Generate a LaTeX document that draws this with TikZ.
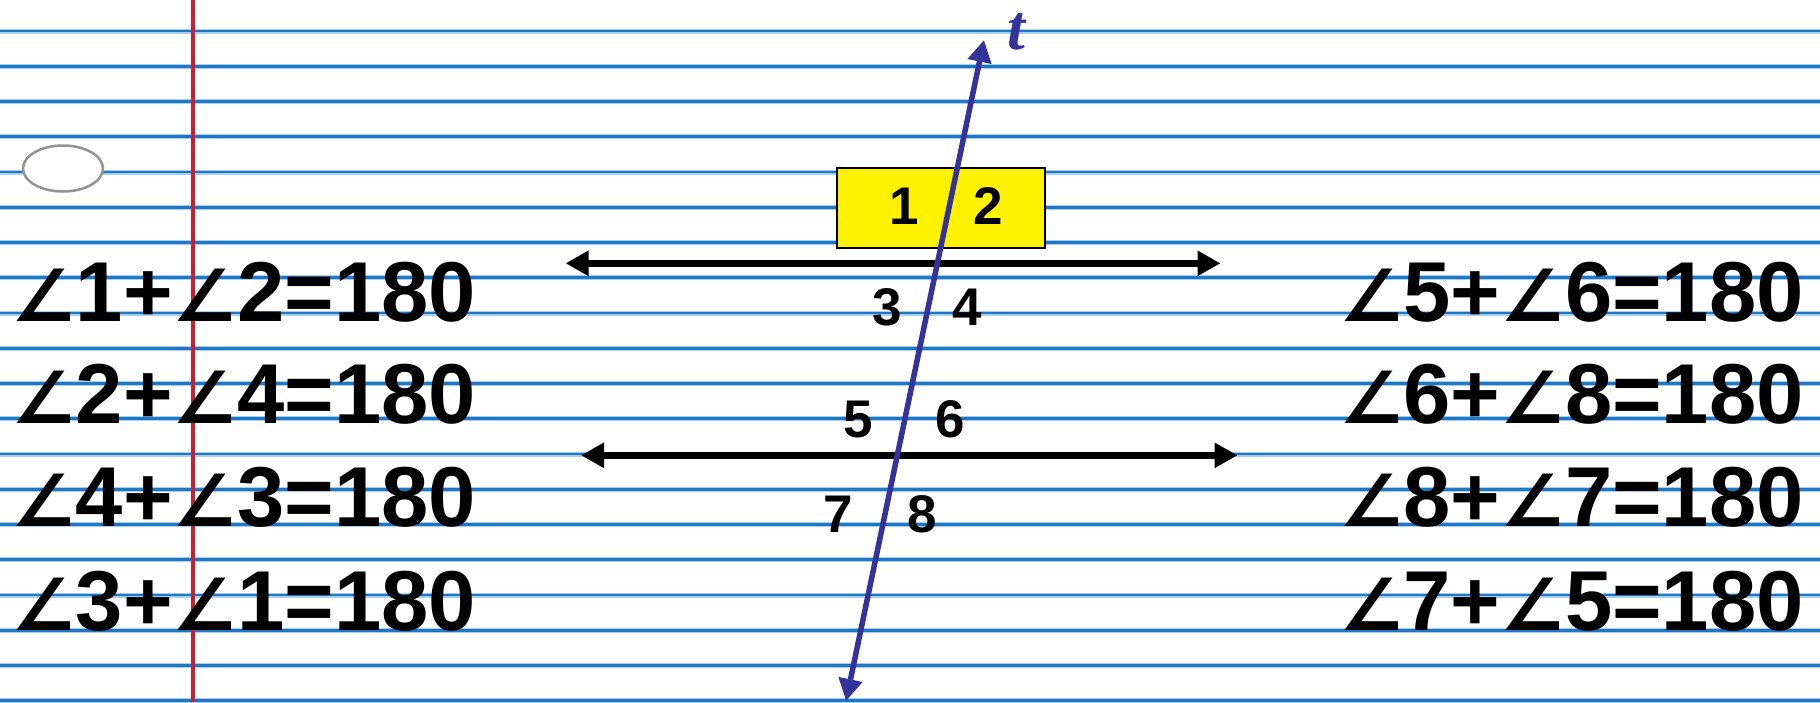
\documentclass[tikz,border=0pt]{standalone}
\usepackage{fontspec}
\setmainfont{Liberation Sans}
\newfontfamily\angfont{DejaVu Sans}
\newfontfamily\tfont{Liberation Serif}
\usetikzlibrary{arrows.meta,shapes.geometric}
\definecolor{ruleblue}{RGB}{30,118,196}
\definecolor{ruleedge}{RGB}{165,208,240}
\definecolor{marginred}{RGB}{200,32,48}
\definecolor{transblue}{RGB}{51,51,153}
\newcommand\myang{{\angfont\fontsize{72}{72}\selectfont ∠}}
\tikzset{
  eqn/.style={inner sep=0pt, font=\bfseries\fontsize{85}{85}\selectfont},
  numlab/.style={inner sep=0pt, anchor=base, font=\bfseries\fontsize{53}{53}\selectfont},
  parline/.style={line width=6.5pt, {Triangle[length=23pt,width=24pt]}-{Triangle[length=23pt,width=24pt]}},
  transline/.style={transblue, line width=5.5pt, {Triangle[length=22pt,width=23pt]}-{Triangle[length=22pt,width=23pt]}},
  yellowbox/.style={draw=black, line width=2pt, fill=yellow, minimum width=208pt, minimum height=80pt, inner sep=0pt},
  holeshape/.style={ellipse, draw=gray!85, line width=2.5pt, fill=white, minimum width=80pt, minimum height=46pt, inner sep=0pt}
}
\begin{document}
\begin{tikzpicture}[x=1pt,y=-1pt]
\useasboundingbox (0,0) rectangle (1820,702);
\fill[white] (0,0) rectangle (1820,702);
% ruled lines
\foreach \k in {0,...,19}{
  \draw[ruleedge, line width=5pt] (0,{31+35.25*\k}) -- (1820,{31+35.25*\k});
  \draw[ruleblue, line width=2.6pt] (0,{31+35.25*\k}) -- (1820,{31+35.25*\k});
}
% margin line
\draw[marginred, line width=4pt] (193,0) -- (193,702);
% punch hole
\node[holeshape] (hole) at (63,168.5) {};
% yellow box
\node[yellowbox] (box) at (941,208) {};
% parallel lines
\coordinate (l1a) at (565.6,263.3);
\coordinate (l1b) at (1220.5,263.3);
\coordinate (l2a) at (581,455.3);
\coordinate (l2b) at (1237.5,455.3);
\draw[parline] (l1a) -- (l1b);
\draw[parline] (l2a) -- (l2b);
% transversal
\coordinate (ttop) at (984,40);
\coordinate (tbot) at (846,701);
\draw[transline] (tbot) -- (ttop);
\node[inner sep=0pt, anchor=base, text=transblue, font=\tfont\bfseries\itshape\fontsize{64}{64}\selectfont] (tlab) at (1016,49) {t};
% angle numbers
\node[numlab] (n1) at (904,224) {1};
\node[numlab] (n2) at (988,224) {2};
\node[numlab] (n3) at (887,325) {3};
\node[numlab] (n4) at (967,325) {4};
\node[numlab] (n5) at (858,437) {5};
\node[numlab] (n6) at (950.5,437) {6};
\node[numlab] (n7) at (838.5,532) {7};
\node[numlab] (n8) at (922,532) {8};
% equations left
\node[eqn, anchor=base west] (e1) at (11,321.7) {\myang1+\myang2=180};
\node[eqn, anchor=base west] (e2) at (11,423) {\myang2+\myang4=180};
\node[eqn, anchor=base west] (e3) at (11,526.7) {\myang4+\myang3=180};
\node[eqn, anchor=base west] (e4) at (11,630) {\myang3+\myang1=180};
% equations right
\node[eqn, anchor=base east] (e5) at (1804,321.7) {\myang5+\myang6=180};
\node[eqn, anchor=base east] (e6) at (1804,423) {\myang6+\myang8=180};
\node[eqn, anchor=base east] (e7) at (1804,526.7) {\myang8+\myang7=180};
\node[eqn, anchor=base east] (e8) at (1804,630) {\myang7+\myang5=180};
\end{tikzpicture}
\end{document}
